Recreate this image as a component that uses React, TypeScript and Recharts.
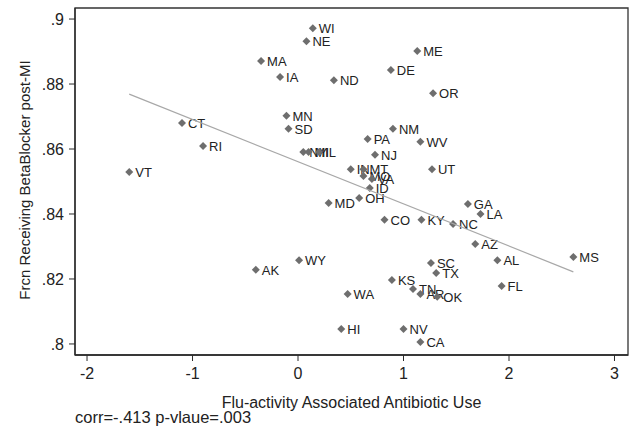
import React from 'react';
import { ScatterChart, Scatter, XAxis, YAxis, ReferenceArea } from 'recharts';

// state abbreviations, x = flu-activity associated antibiotic use, y = fraction receiving beta blocker
const states = [
  'WI', 'NE', 'MA', 'IA', 'ND', 'ME', 'DE', 'OR', 'CT', 'MN',
  'SD', 'RI', 'VT', 'NM', 'PA', 'WV', 'NY', 'MI', 'IL', 'NJ',
  'IN', 'MT', 'MO', 'VA', 'ID', 'OH', 'MD', 'CO', 'KY', 'NC',
  'UT', 'GA', 'LA', 'AZ', 'AL', 'MS', 'FL', 'SC', 'TX', 'KS',
  'TN', 'AR', 'OK', 'WA', 'HI', 'NV', 'CA', 'AK', 'WY',
];
const fluUse = [
  0.14, 0.08, -0.35, -0.17, 0.34, 1.13, 0.88, 1.28, -1.1, -0.11,
  -0.09, -0.9, -1.6, 0.9, 0.66, 1.16, 0.05, 0.1, 0.2, 0.73,
  0.5, 0.62, 0.62, 0.7, 0.68, 0.58, 0.29, 0.82, 1.17, 1.47,
  1.27, 1.61, 1.73, 1.68, 1.89, 2.61, 1.93, 1.26, 1.31, 0.89,
  1.09, 1.16, 1.32, 0.47, 0.41, 1.0, 1.16, -0.4, 0.01,
];
const betaBlocker = [
  0.8972, 0.8932, 0.8871, 0.8822, 0.8812, 0.8902, 0.8843, 0.8772, 0.868, 0.8702,
  0.8662, 0.8609, 0.8529, 0.8662, 0.8631, 0.8622, 0.8591, 0.8591, 0.8591, 0.8582,
  0.8538, 0.8538, 0.8517, 0.8508, 0.848, 0.8449, 0.8434, 0.8382, 0.8382, 0.8369,
  0.8538, 0.8431, 0.84, 0.8308, 0.8258, 0.8268, 0.8178, 0.8249, 0.8218, 0.8197,
  0.8169, 0.8154, 0.8145, 0.8154, 0.8046, 0.8046, 0.8006, 0.8228, 0.8258,
];

// fitted line end points
const fitX = [-1.6, 2.61];
const fitY = [0.8769, 0.8222];

const xTicks = [-2, -1, 0, 1, 2, 3];
const yTicks = [0.8, 0.82, 0.84, 0.86, 0.88, 0.9];

const points = states.map((state, i) => ({ state, x: fluUse[i], y: betaBlocker[i] }));
const fitLine = fitX.map((x, i) => ({ x, y: fitY[i] }));

const FONT = '"Liberation Sans", Arial, sans-serif';
const X_DOMAIN = [-2.114, 3.128];
const Y_DOMAIN = [0.7966, 0.9034];
const frame = { stroke: '#2a2a2a', strokeWidth: 1.3 };

const StateMarker = (props: any) => {
  const { cx, cy, payload } = props;
  const r = 4;
  return (
    <g>
      <path d={`M${cx},${cy - r}L${cx + r},${cy}L${cx},${cy + r}L${cx - r},${cy}Z`} fill="#6e6e6e" />
      <text x={cx + 6} y={cy} dy="0.36em" fontSize={13} fill="#222" fontFamily={FONT}>
        {payload.state}
      </text>
    </g>
  );
};

const fmtY = (v: number) => (v === 0.8 ? '.8' : v === 0.9 ? '.9' : v.toFixed(2).replace(/^0/, ''));

export default function App() {
  return (
    <div style={{ position: 'absolute', left: 0, top: 0, width: 636, height: 428, background: '#fff', fontFamily: FONT }}>
      <ScatterChart width={636} height={428} margin={{ top: 8, right: 8, left: 0, bottom: 0 }}>
        <XAxis
          type="number"
          dataKey="x"
          domain={X_DOMAIN}
          ticks={xTicks}
          allowDataOverflow
          height={73}
          tickSize={6}
          tickMargin={7}
          axisLine={frame}
          tickLine={{ stroke: '#2a2a2a' }}
          tick={{ fontSize: 16, fill: '#222', fontFamily: FONT }}
          tickFormatter={(v) => `${v}`}
        />
        <YAxis
          type="number"
          dataKey="y"
          domain={Y_DOMAIN}
          ticks={yTicks}
          allowDataOverflow
          width={75}
          tickSize={6}
          tickMargin={5}
          axisLine={frame}
          tickLine={{ stroke: '#2a2a2a' }}
          tick={{ fontSize: 16, fill: '#222', fontFamily: FONT }}
          tickFormatter={fmtY}
        />
        {/* plot frame */}
        <ReferenceArea
          x1={X_DOMAIN[0]}
          x2={X_DOMAIN[1]}
          y1={Y_DOMAIN[0]}
          y2={Y_DOMAIN[1]}
          fill="none"
          fillOpacity={0}
          stroke="#333"
          strokeWidth={1.3}
          strokeOpacity={1}
          ifOverflow="visible"
        />
        <Scatter data={points} shape={StateMarker} isAnimationActive={false} />
        <Scatter
          data={fitLine}
          line={{ stroke: '#a8a8a8', strokeWidth: 1.2 }}
          lineType="joint"
          shape={() => null}
          isAnimationActive={false}
        />
      </ScatterChart>
      <div style={{ position: 'absolute', left: 75, width: 553, top: 394, textAlign: 'center', fontSize: 16, color: '#222', whiteSpace: 'nowrap' }}>
        Flu-activity Associated Antibiotic Use
      </div>
      <div style={{ position: 'absolute', left: 75, top: 408, fontSize: 16.5, color: '#222', whiteSpace: 'nowrap' }}>
        corr=-.413 p-vlaue=.003
      </div>
      <div
        style={{
          position: 'absolute',
          left: 25,
          top: 180,
          width: 300,
          marginLeft: -150,
          marginTop: -9,
          textAlign: 'center',
          fontSize: 15,
          color: '#222',
          transform: 'rotate(-90deg)',
          lineHeight: '18px',
          whiteSpace: 'nowrap',
        }}
      >
        Frcn Receiving BetaBlocker post-MI
      </div>
    </div>
  );
}
